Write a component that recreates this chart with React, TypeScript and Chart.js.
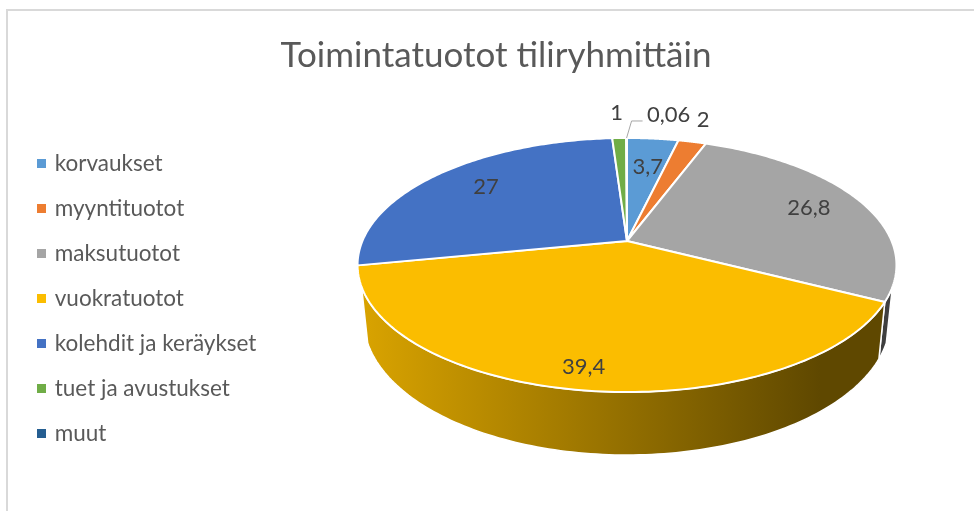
import React, { useEffect, useRef } from "react";
import { Chart, registerables } from "chart.js";

Chart.register(...registerables);

const titleText = "Toimintatuotot tiliryhmittäin";
const categories = ["korvaukset", "myyntituotot", "maksutuotot", "vuokratuotot", "kolehdit ja keräykset", "tuet ja avustukset", "muut"];
const values = [3.7, 2, 26.8, 39.4, 27, 1, 0.06];
const sliceColors = [
  [91, 155, 213],
  [237, 125, 49],
  [165, 165, 165],
  [251, 189, 0],
  [68, 114, 196],
  [112, 173, 71],
  [37, 94, 145],
];
const FONT = "Lato";
const TEXT_DARK = "#404040";
const TEXT_SOFT = "#595959";

// Perspective view of the disc
const APEX_X = 627;
const APEX_Y = 241;
const SPREAD_X = 264.6;
const SPREAD_Y = 122.5;
const TILT = 0.189;
// Lower face of the disc relative to the upper one
const BASE_SHRINK_X = 0.977;
const BASE_STRETCH_Y = 1.066;
const BASE_DROP = 53;
// Where the side wall meets the silhouette of the disc
const WALL_INSET = 0.358;
// Data label nudges from the outer edge of each slice
const labelNudge = [
  [-5, 28],
  [11, -22],
  [-49, 8.5],
  [2, -23],
  [47, 13],
  [-2.5, -25],
  [42, -23],
];

function top(a: number, r = 1) {
  const u = Math.cos(a) * r;
  const v = Math.sin(a) * r;
  const d = 1 - TILT * v;
  return { x: APEX_X + (SPREAD_X * u) / d, y: APEX_Y + (SPREAD_Y * v) / d };
}
function base(a: number) {
  const p = top(a);
  return {
    x: APEX_X + (p.x - APEX_X) * BASE_SHRINK_X,
    y: APEX_Y + BASE_DROP + (p.y - APEX_Y) * BASE_STRETCH_Y,
  };
}
function shade(c: number[], f: number) {
  return `rgb(${Math.round(c[0] * f)},${Math.round(c[1] * f)},${Math.round(c[2] * f)})`;
}
function swatch(color: string) {
  const c = document.createElement("canvas");
  c.width = 9;
  c.height = 9;
  const g = c.getContext("2d")!;
  g.fillStyle = color;
  g.fillRect(0, 0, 9, 9);
  return c;
}

const legendShiftPlugin = {
  id: "legendShift",
  afterLayout(chart: any) {
    const l = chart.legend;
    l.top += 33;
    l.bottom += 33;
    l.left -= 1;
    l.right -= 1;
  },
};

const discPlugin = {
  id: "disc",
  beforeDatasetsDraw(chart: any) {
    const ctx: CanvasRenderingContext2D = chart.ctx;
    const arcs = chart.getDatasetMeta(0).data;
    const steps = 120;
    ctx.save();
    // side wall, visible part of the front only
    arcs.forEach((arc: any, i: number) => {
      const from = Math.max(arc.startAngle, WALL_INSET);
      const to = Math.min(arc.endAngle, Math.PI - WALL_INSET);
      if (to <= from) return;
      const g = ctx.createLinearGradient(358, 0, 820, 0);
      g.addColorStop(0, shade(sliceColors[i], 0.87));
      g.addColorStop(1, shade(sliceColors[i], 0.38));
      ctx.beginPath();
      for (let s = 0; s <= steps; s++) {
        const p = top(from + ((to - from) * s) / steps);
        if (s === 0) ctx.moveTo(p.x, p.y);
        else ctx.lineTo(p.x, p.y);
      }
      for (let s = steps; s >= 0; s--) {
        const p = base(from + ((to - from) * s) / steps);
        ctx.lineTo(p.x, p.y);
      }
      ctx.closePath();
      ctx.fillStyle = g;
      ctx.fill();
      ctx.strokeStyle = "#fff";
      ctx.lineWidth = 1.5;
      ctx.stroke();
    });
    // upper face
    arcs.forEach((arc: any, i: number) => {
      ctx.beginPath();
      ctx.moveTo(APEX_X, APEX_Y);
      for (let s = 0; s <= steps; s++) {
        const p = top(arc.startAngle + ((arc.endAngle - arc.startAngle) * s) / steps);
        ctx.lineTo(p.x, p.y);
      }
      ctx.closePath();
      ctx.fillStyle = shade(sliceColors[i], 1);
      ctx.fill();
      ctx.strokeStyle = "#fff";
      ctx.lineWidth = 2;
      ctx.lineJoin = "round";
      ctx.stroke();
    });
    // leader line of the smallest slice
    const last = arcs.length - 1;
    const mid = (arcs[last].startAngle + arcs[last].endAngle) / 2;
    const edge = top(mid);
    ctx.beginPath();
    ctx.moveTo(edge.x, edge.y);
    ctx.lineTo(edge.x + 5, edge.y - 17);
    ctx.lineTo(edge.x + 16, edge.y - 17);
    ctx.strokeStyle = "#a6a6a6";
    ctx.lineWidth = 1;
    ctx.stroke();
    // data labels
    ctx.fillStyle = TEXT_DARK;
    ctx.font = `22px ${FONT}`;
    ctx.textAlign = "center";
    ctx.textBaseline = "middle";
    arcs.forEach((arc: any, i: number) => {
      const p = top((arc.startAngle + arc.endAngle) / 2);
      ctx.fillText(String(values[i]).replace(".", ","), p.x + labelNudge[i][0], p.y + labelNudge[i][1]);
    });
    ctx.restore();
    return false;
  },
};

export default function App() {
  const ref = useRef<HTMLCanvasElement>(null);
  useEffect(() => {
    const chart = new Chart(ref.current!, {
      type: "pie",
      data: {
        labels: categories,
        datasets: [{ data: values, backgroundColor: sliceColors.map((c) => shade(c, 1)), borderColor: "#fff" }],
      },
      options: {
        responsive: false,
        animation: false,
        layout: { padding: { left: 18, top: 20, right: 0, bottom: 0 } },
        plugins: {
          tooltip: { enabled: false },
          title: {
            display: true,
            text: titleText,
            color: TEXT_SOFT,
            font: { family: FONT, size: 35, weight: "normal" },
            padding: { top: 15, bottom: 20 },
          },
          legend: {
            position: "left",
            labels: {
              color: TEXT_SOFT,
              font: { family: FONT, size: 22.5 },
              boxWidth: 4,
              boxHeight: 8,
              padding: 22.5,
              usePointStyle: true,
              generateLabels: (c: any) =>
                (Chart as any).overrides.pie.plugins.legend.labels
                  .generateLabels(c)
                  .map((item: any, i: number) => ({ ...item, pointStyle: swatch(shade(sliceColors[i], 1)) })),
            },
          },
        },
      },
      plugins: [discPlugin, legendShiftPlugin],
    } as any);
    return () => chart.destroy();
  }, []);
  return (
    <div style={{ position: "absolute", left: 0, top: 0, width: 974, height: 511, overflow: "hidden", background: "#fff" }}>
      <div style={{ position: "absolute", left: 6, top: 9, right: 0, bottom: 0, borderLeft: "2px solid #d9d9d9", borderTop: "2px solid #d9d9d9" }} />
      <canvas ref={ref} width={974} height={511} style={{ position: "absolute", left: 0, top: 0, display: "block" }} />
    </div>
  );
}
